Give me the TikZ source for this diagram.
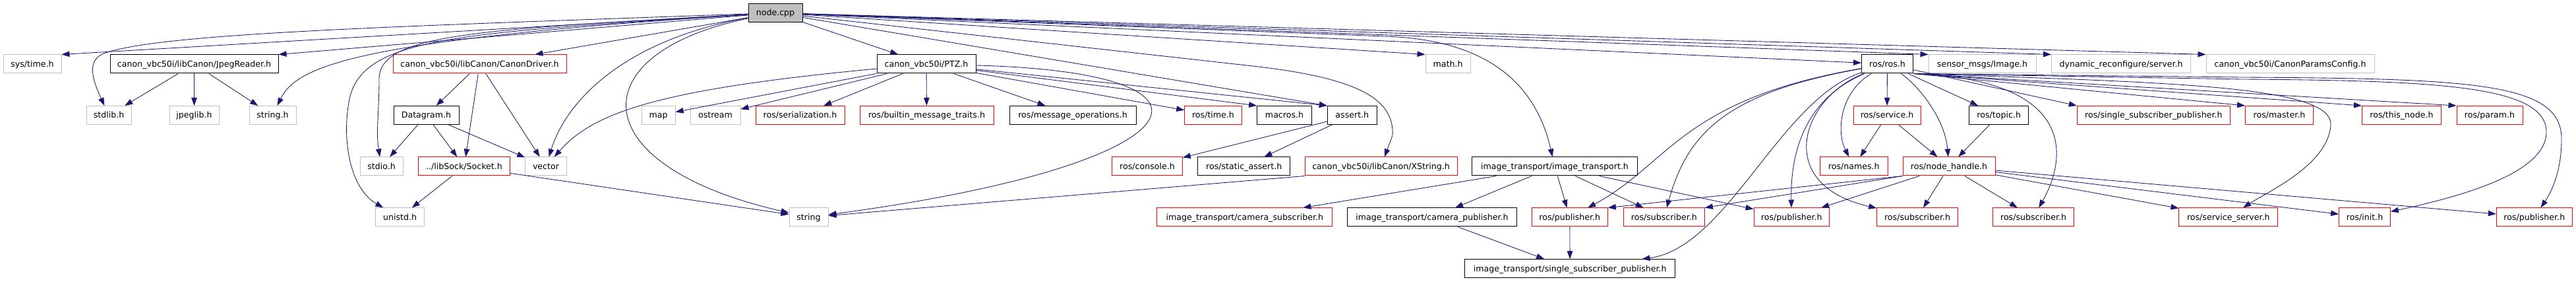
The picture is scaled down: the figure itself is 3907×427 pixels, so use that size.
\documentclass[tikz,border=0pt]{standalone}
\usepackage{fontspec}
\setmainfont{DejaVu Sans}
\usepackage{tikz}
\usetikzlibrary{arrows.meta}
\definecolor{edgeblue}{HTML}{191970}
\definecolor{boxgray}{HTML}{BFBFBF}
\definecolor{boxred}{HTML}{FF0000}

\begin{document}
\begin{tikzpicture}[x=1pt, y=-1pt,
  hdr/.style={rectangle, draw=black, fill=white, line width=1pt, minimum height=28pt, inner sep=0pt, text height=12pt, text depth=3pt, font=\fontsize{12.6}{15}\selectfont},
  srchdr/.style={hdr, fill=boxgray},
  syshdr/.style={hdr, draw=boxgray},
  cuthdr/.style={hdr, draw=boxred},
  dep/.style={draw=edgeblue, line width=0.85pt, -{Triangle[length=12pt, width=8.5pt]}}
]
  \useasboundingbox (0,0) rectangle (3907,427);
  \foreach \nm/\x/\y/\w/\kind/\txt in {
    nodecpp/1176/19.5/82/srchdr/{node.cpp},
    systime/49/97/88/syshdr/{sys/time.h},
    jpegreader/294.5/97/255/hdr/{canon\_vbc50i/libCanon/JpegReader.h},
    canondriver/727.5/97/263/cuthdr/{canon\_vbc50i/libCanon/CanonDriver.h},
    ptz/1405/97/150/hdr/{canon\_vbc50i/PTZ.h},
    math/2196/97/68/syshdr/{math.h},
    ros/2862.5/97/78/hdr/{ros/ros.h},
    sensorimage/3006.5/97/163/syshdr/{sensor\_msgs/Image.h},
    dynserver/3217/97/211/syshdr/{dynamic\_reconfigure/server.h},
    paramsconfig/3473.5/97/255/syshdr/{canon\_vbc50i/CanonParamsConfig.h},
    stdlib/165/174.5/68/syshdr/{stdlib.h},
    jpeglib/294.5/174.5/75/syshdr/{jpeglib.h},
    stringh/413.5/174.5/71/syshdr/{string.h},
    datagram/646.5/174.5/99/hdr/{Datagram.h},
    map/998.5/174.5/51/syshdr/{map},
    ostream/1085/174.5/76/syshdr/{ostream},
    serialization/1213.5/174.5/135/cuthdr/{ros/serialization.h},
    builtin/1405.5/174.5/203/cuthdr/{ros/builtin\_message\_traits.h},
    msgops/1627/174.5/192/hdr/{ros/message\_operations.h},
    rostime/1840/174.5/86.6/cuthdr/{ros/time.h},
    macros/1948/174.5/82.7/hdr/{macros.h},
    assert/2050.8/174.5/75/hdr/{assert.h},
    service/2862/174.5/102/cuthdr/{ros/service.h},
    topic/3031.7/174.5/90/hdr/{ros/topic.h},
    rosssp/3266.3/174.5/232/cuthdr/{ros/single\_subscriber\_publisher.h},
    master/3457/174.5/103/cuthdr/{ros/master.h},
    thisnode/3642.5/174.5/120/cuthdr/{ros/this\_node.h},
    param/3776/174.5/100/cuthdr/{ros/param.h},
    stdio/578.5/252/65/syshdr/{stdio.h},
    socket/704/252/139/cuthdr/{../libSock/Socket.h},
    vector/828/252/62.7/syshdr/{vector},
    console/1740/252/106.7/cuthdr/{ros/console.h},
    staticassert/1886.7/252/140/hdr/{ros/static\_assert.h},
    xstring/2094.5/252/231/cuthdr/{canon\_vbc50i/libCanon/XString.h},
    imagetransport/2358/252/250.7/hdr/{image\_transport/image\_transport.h},
    names/2811.8/252/103/cuthdr/{ros/names.h},
    nodehandle/2956/252/140/cuthdr/{ros/node\_handle.h},
    unistd/606.5/329/73.7/syshdr/{unistd.h},
    string/1226.5/329/59/syshdr/{string},
    camsub/1887.8/329/265.7/cuthdr/{image\_transport/camera\_subscriber.h},
    campub/2172/329/257.3/hdr/{image\_transport/camera\_publisher.h},
    pubA/2380.8/329/115/cuthdr/{ros/publisher.h},
    subA/2523.8/329/123/cuthdr/{ros/subscriber.h},
    pubB/2717.2/329/114.3/cuthdr/{ros/publisher.h},
    subB/2908/329/122.7/cuthdr/{ros/subscriber.h},
    subC/3084/329/122.7/cuthdr/{ros/subscriber.h},
    servserver/3379.8/329/149.7/cuthdr/{ros/service\_server.h},
    init/3586.5/329/77.7/cuthdr/{ros/init.h},
    pubC/3843.8/329/115/cuthdr/{ros/publisher.h},
    itssp/2381.2/406.7/319/hdr/{image\_transport/single\_subscriber\_publisher.h}}{
    \node[\kind, minimum width=\w pt] (\nm) at (\x,\y) {\txt};
  }
  \foreach \a/\b in {
    nodecpp/systime.north east, nodecpp/jpegreader.north east, nodecpp/canondriver,
    nodecpp/ptz, nodecpp/assert.north west, nodecpp/math.north west, nodecpp/ros,
    nodecpp/sensorimage.north west, nodecpp/dynserver.north west, nodecpp/paramsconfig.north west,
    jpegreader/stdlib, jpegreader/jpeglib, jpegreader/stringh,
    canondriver/datagram, canondriver/socket, canondriver/vector,
    datagram/stdio, datagram/socket, datagram/vector,
    socket/unistd, socket/string,
    ptz/map, ptz/ostream, ptz/serialization, ptz/builtin, ptz/msgops,
    ptz/rostime, ptz/macros.north west, ptz/assert.north west,
    assert/console, assert/staticassert, xstring.south west/string,
    imagetransport/camsub, imagetransport/campub, imagetransport/pubA,
    imagetransport/subA, imagetransport/pubB,
    campub/itssp, pubA/itssp,
    ros/service, ros/topic, ros/rosssp.north west,
    ros.south east/master.north west, ros.south east/thisnode.north west,
    ros.south east/param.north west,
    service/names, service/nodehandle, topic/nodehandle,
    nodehandle.south west/pubA.north east, nodehandle.south west/subA.north east,
    nodehandle/pubB, nodehandle/subB, nodehandle/subC,
    nodehandle/servserver, nodehandle/init, nodehandle/pubC}{
    \draw[dep] (\a) -- (\b);
  }
  \draw[dep] (nodecpp) .. controls (600,40) and (250,50) .. (160,80) .. controls (130,90) and (140,120) .. (stdlib);
  \draw[dep] (nodecpp) .. controls (540,60) and (450,100) .. (stringh);
  \draw[dep] (nodecpp) .. controls (700,50) and (550,55) .. (530,150) .. controls (518,210) and (530,285) .. (unistd);
  \draw[dep] (nodecpp) .. controls (720,45) and (575,52) .. (575,120) .. controls (575,170) and (570,200) .. (stdio);
  \draw[dep] (nodecpp) .. controls (950,60) and (860,150) .. (vector);
  \draw[dep] (nodecpp) .. controls (880,80) and (880,250) .. (string);
  \draw[dep] (nodecpp) -- (1900,100) .. controls (2060,118) and (2115,150) .. (2112,205) -- (xstring);
  \draw[dep] (nodecpp) -- (2100,55) .. controls (2260,60) and (2330,130) .. (imagetransport);
  \draw[dep] (ptz) .. controls (1000,135) and (900,170) .. (vector);
  \draw[dep] (ptz) .. controls (1900,110) and (1820,250) .. (string);
  \draw[dep] (ros) .. controls (2790,140) and (2785,200) .. (names);
  \draw[dep] (ros) .. controls (2910,130) and (2950,180) .. (nodehandle);
  \draw[dep] (ros) .. controls (2730,150) and (2690,280) .. (subB);
  \draw[dep] (ros) .. controls (2760,140) and (2715,200) .. (pubB);
  \draw[dep] (ros) .. controls (2550,150) and (2530,250) .. (pubA);
  \draw[dep] (ros) .. controls (2620,140) and (2560,200) .. (subA);
  \draw[dep] (ros) .. controls (2700,150) and (2620,375) .. (itssp);
  \draw[dep] (ros.south east) .. controls (3140,120) and (3140,230) .. (subC);
  \draw[dep] (ros.south east) .. controls (3300,125) and (3540,130) .. (3535,190) .. controls (3530,250) and (3440,290) .. (servserver);
  \draw[dep] (ros.south east) -- (3400,120) .. controls (3700,122) and (3862,130) .. (3862,200) .. controls (3862,265) and (3720,300) .. (init);
  \draw[dep] (ros.south east) -- (3400,117) .. controls (3750,119) and (3885,125) .. (3885,210) .. controls (3885,260) and (3870,290) .. (pubC);
\end{tikzpicture}
\end{document}
